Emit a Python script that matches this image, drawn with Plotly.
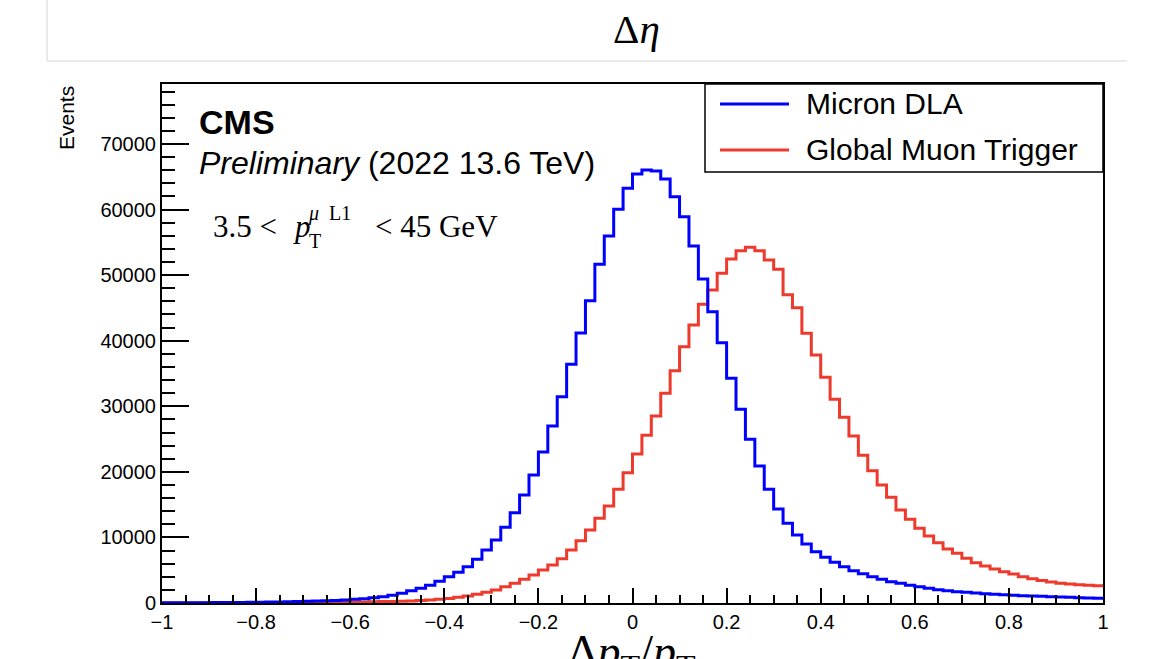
import numpy as np
import plotly.graph_objects as go

# ---------------- data ----------------
bin_low = -1.0
bin_width = 0.02

# Micron DLA, 100 bins from -1 to 1
micron_dla = [
    30, 35, 40, 45, 50, 60, 70, 80, 90, 105, 120, 140, 160, 185, 215, 250, 290, 340, 400, 470,
    560, 660, 790, 950, 1180,
    1474, 1881, 2237, 2694, 3304, 4016, 4677, 5541, 6659, 8083, 9608, 11539, 13776, 16470, 19520,
    23028, 26993, 31466, 36397, 41175, 46106, 51647, 55968, 60034, 63237,
    65423, 66032, 65880, 64660, 61965, 58915, 54443, 49410, 44428, 39701, 34262, 29534, 24959,
    20893, 17334, 14335, 12149, 10370, 8998, 7828, 6964, 6202, 5541, 4931, 4450,
    4016, 3609, 3253, 2999, 2694, 2491, 2237, 2033, 1881, 1728, 1627, 1525, 1423, 1322, 1271,
    1169, 1118, 1068, 1017, 966, 915, 864, 813, 762, 712,
]

# Global Muon Trigger, 100 bins from -1 to 1
global_muon_trigger = [
    10, 10, 12, 13, 15, 17, 19, 22, 25, 28, 32, 36, 41, 47, 54, 62, 72, 84, 98, 115,
    135, 160, 185, 215, 240,
    250, 300, 370, 450, 560, 700, 870, 1080, 1330, 1627, 1983, 2491, 2999, 3609, 4270,
    5033, 5795, 6761, 8083, 9506, 11133, 12912, 14793, 17334, 19876,
    22722, 25569, 28518, 31974, 35431, 39091, 42395, 45547, 47733, 50274, 52460, 53731, 54239,
    53731, 52308, 50884, 47021, 45038, 41124, 37820, 34415, 31059, 28314, 25468, 22519,
    20180, 17995, 16114, 14183, 12759, 11387, 10218, 9200, 8235, 7574, 6812, 6151, 5643, 5185,
    4778, 4423, 4016, 3711, 3450, 3200, 3000, 2880, 2780, 2700, 2630,
]

series_names = ["Micron DLA", "Global Muon Trigger"]
x_tick_vals = [-1, -0.8, -0.6, -0.4, -0.2, 0, 0.2, 0.4, 0.6, 0.8, 1]
x_tick_text = ["\u22121", "\u22120.8", "\u22120.6", "\u22120.4", "\u22120.2", "0",
               "0.2", "0.4", "0.6", "0.8", "1"]
y_tick_vals = [0, 10000, 20000, 30000, 40000, 50000, 60000, 70000]
y_tick_text = ["0", "10000", "20000", "30000", "40000", "50000", "60000", "70000"]
y_max = 79150

# ---------------- layout helpers ----------------
W, H = 1166, 659
L, R, T, B = 162, 1103, 84, 603

def px(x):
    return (x - L) / (R - L)

def py(y):
    return (B - y) / (B - T)

BLUE = "#0000ff"
RED = "#ee3a2c"
SANS = "Liberation Sans, Arial, sans-serif"
SERIF = "Liberation Serif, Times New Roman, serif"

edges = np.round(bin_low + bin_width * np.arange(len(micron_dla) + 1), 4)

fig = go.Figure()
fig.add_trace(go.Scatter(
    x=edges, y=list(global_muon_trigger) + [global_muon_trigger[-1]],
    mode="lines", line=dict(shape="hv", color=RED, width=3),
    name=series_names[1], showlegend=False, hoverinfo="skip"))
fig.add_trace(go.Scatter(
    x=edges, y=list(micron_dla) + [micron_dla[-1]],
    mode="lines", line=dict(shape="hv", color=BLUE, width=3),
    name=series_names[0], showlegend=False, hoverinfo="skip"))

fig.update_layout(
    width=W, height=H,
    margin=dict(l=L, r=W - R, t=T, b=H - B, pad=0),
    paper_bgcolor="white", plot_bgcolor="white",
    font=dict(family=SANS, color="black"),
    showlegend=False,
)

fig.update_xaxes(
    range=[-1, 1], showgrid=False, zeroline=False,
    showline=True, mirror=True, linecolor="black", linewidth=2,
    ticks="inside", ticklen=15, tickwidth=1.5, tickcolor="black",
    tickvals=x_tick_vals, ticktext=x_tick_text,
    tickfont=dict(family=SANS, size=20, color="black"),
    minor=dict(dtick=0.05, tick0=-1, ticks="inside", ticklen=8, tickwidth=1.5, tickcolor="black"),
)
fig.update_yaxes(
    range=[0, y_max], showgrid=False, zeroline=False,
    showline=True, mirror=True, linecolor="black", linewidth=2,
    ticks="inside", ticklen=27, tickwidth=1.5, tickcolor="black",
    tickvals=y_tick_vals, ticktext=y_tick_text,
    tickfont=dict(family=SANS, size=20, color="black"),
    minor=dict(dtick=2000, tick0=0, ticks="inside", ticklen=13, tickwidth=1.5, tickcolor="black"),
)

shapes = [
    # header box of the page
    dict(type="line", xref="paper", yref="paper", x0=px(47), x1=px(47), y0=py(0), y1=py(61),
         line=dict(color="#d4d4d4", width=1)),
    dict(type="line", xref="paper", yref="paper", x0=px(47), x1=px(1127), y0=py(61), y1=py(61),
         line=dict(color="#d4d4d4", width=1)),
    # legend box
    dict(type="rect", xref="paper", yref="paper", x0=px(705), x1=px(1103), y0=py(172), y1=py(84),
         fillcolor="white", line=dict(color="black", width=1.5), layer="above"),
    dict(type="line", xref="paper", yref="paper", x0=px(720), x1=px(789), y0=py(104), y1=py(104),
         line=dict(color=BLUE, width=3), layer="above"),
    dict(type="line", xref="paper", yref="paper", x0=px(720), x1=px(789), y0=py(150), y1=py(150),
         line=dict(color=RED, width=3), layer="above"),
]
fig.update_layout(shapes=shapes)

def ann(text, x, y, size, family=SANS, xanchor="left", yanchor="middle", angle=0):
    fig.add_annotation(text=text, xref="paper", yref="paper", x=px(x), y=py(y),
                       xanchor=xanchor, yanchor=yanchor, showarrow=False, textangle=angle,
                       font=dict(family=family, size=size, color="black"))

ann("\u0394<i>\u03b7</i>", 636, 29, 41, family=SERIF, xanchor="center")
ann("Events", 66, 84, 21, xanchor="center", yanchor="top", angle=-90)
ann("<b>CMS</b>", 197, 122, 34)
ann("<i>Preliminary</i> (2022 13.6 TeV)", 197, 163, 32)
ann("3.5 &lt;", 211, 226, 31, family=SERIF)
ann("<i>p</i>", 291, 227, 31, family=SERIF)
ann("<i>\u03bc</i>  L1", 306, 214, 20, family=SERIF)
ann("T", 307, 241, 20, family=SERIF)
ann("&lt; 45 GeV", 500, 226, 31, family=SERIF, xanchor="right")
ann(series_names[0], 804, 103, 30)
ann(series_names[1], 804, 149, 30)
ann("\u0394<i>p</i><sub>T</sub>/<i>p</i><sub>T</sub>", 632, 624, 46, family=SERIF,
    xanchor="center", yanchor="top")

fig.write_html("out.html")
